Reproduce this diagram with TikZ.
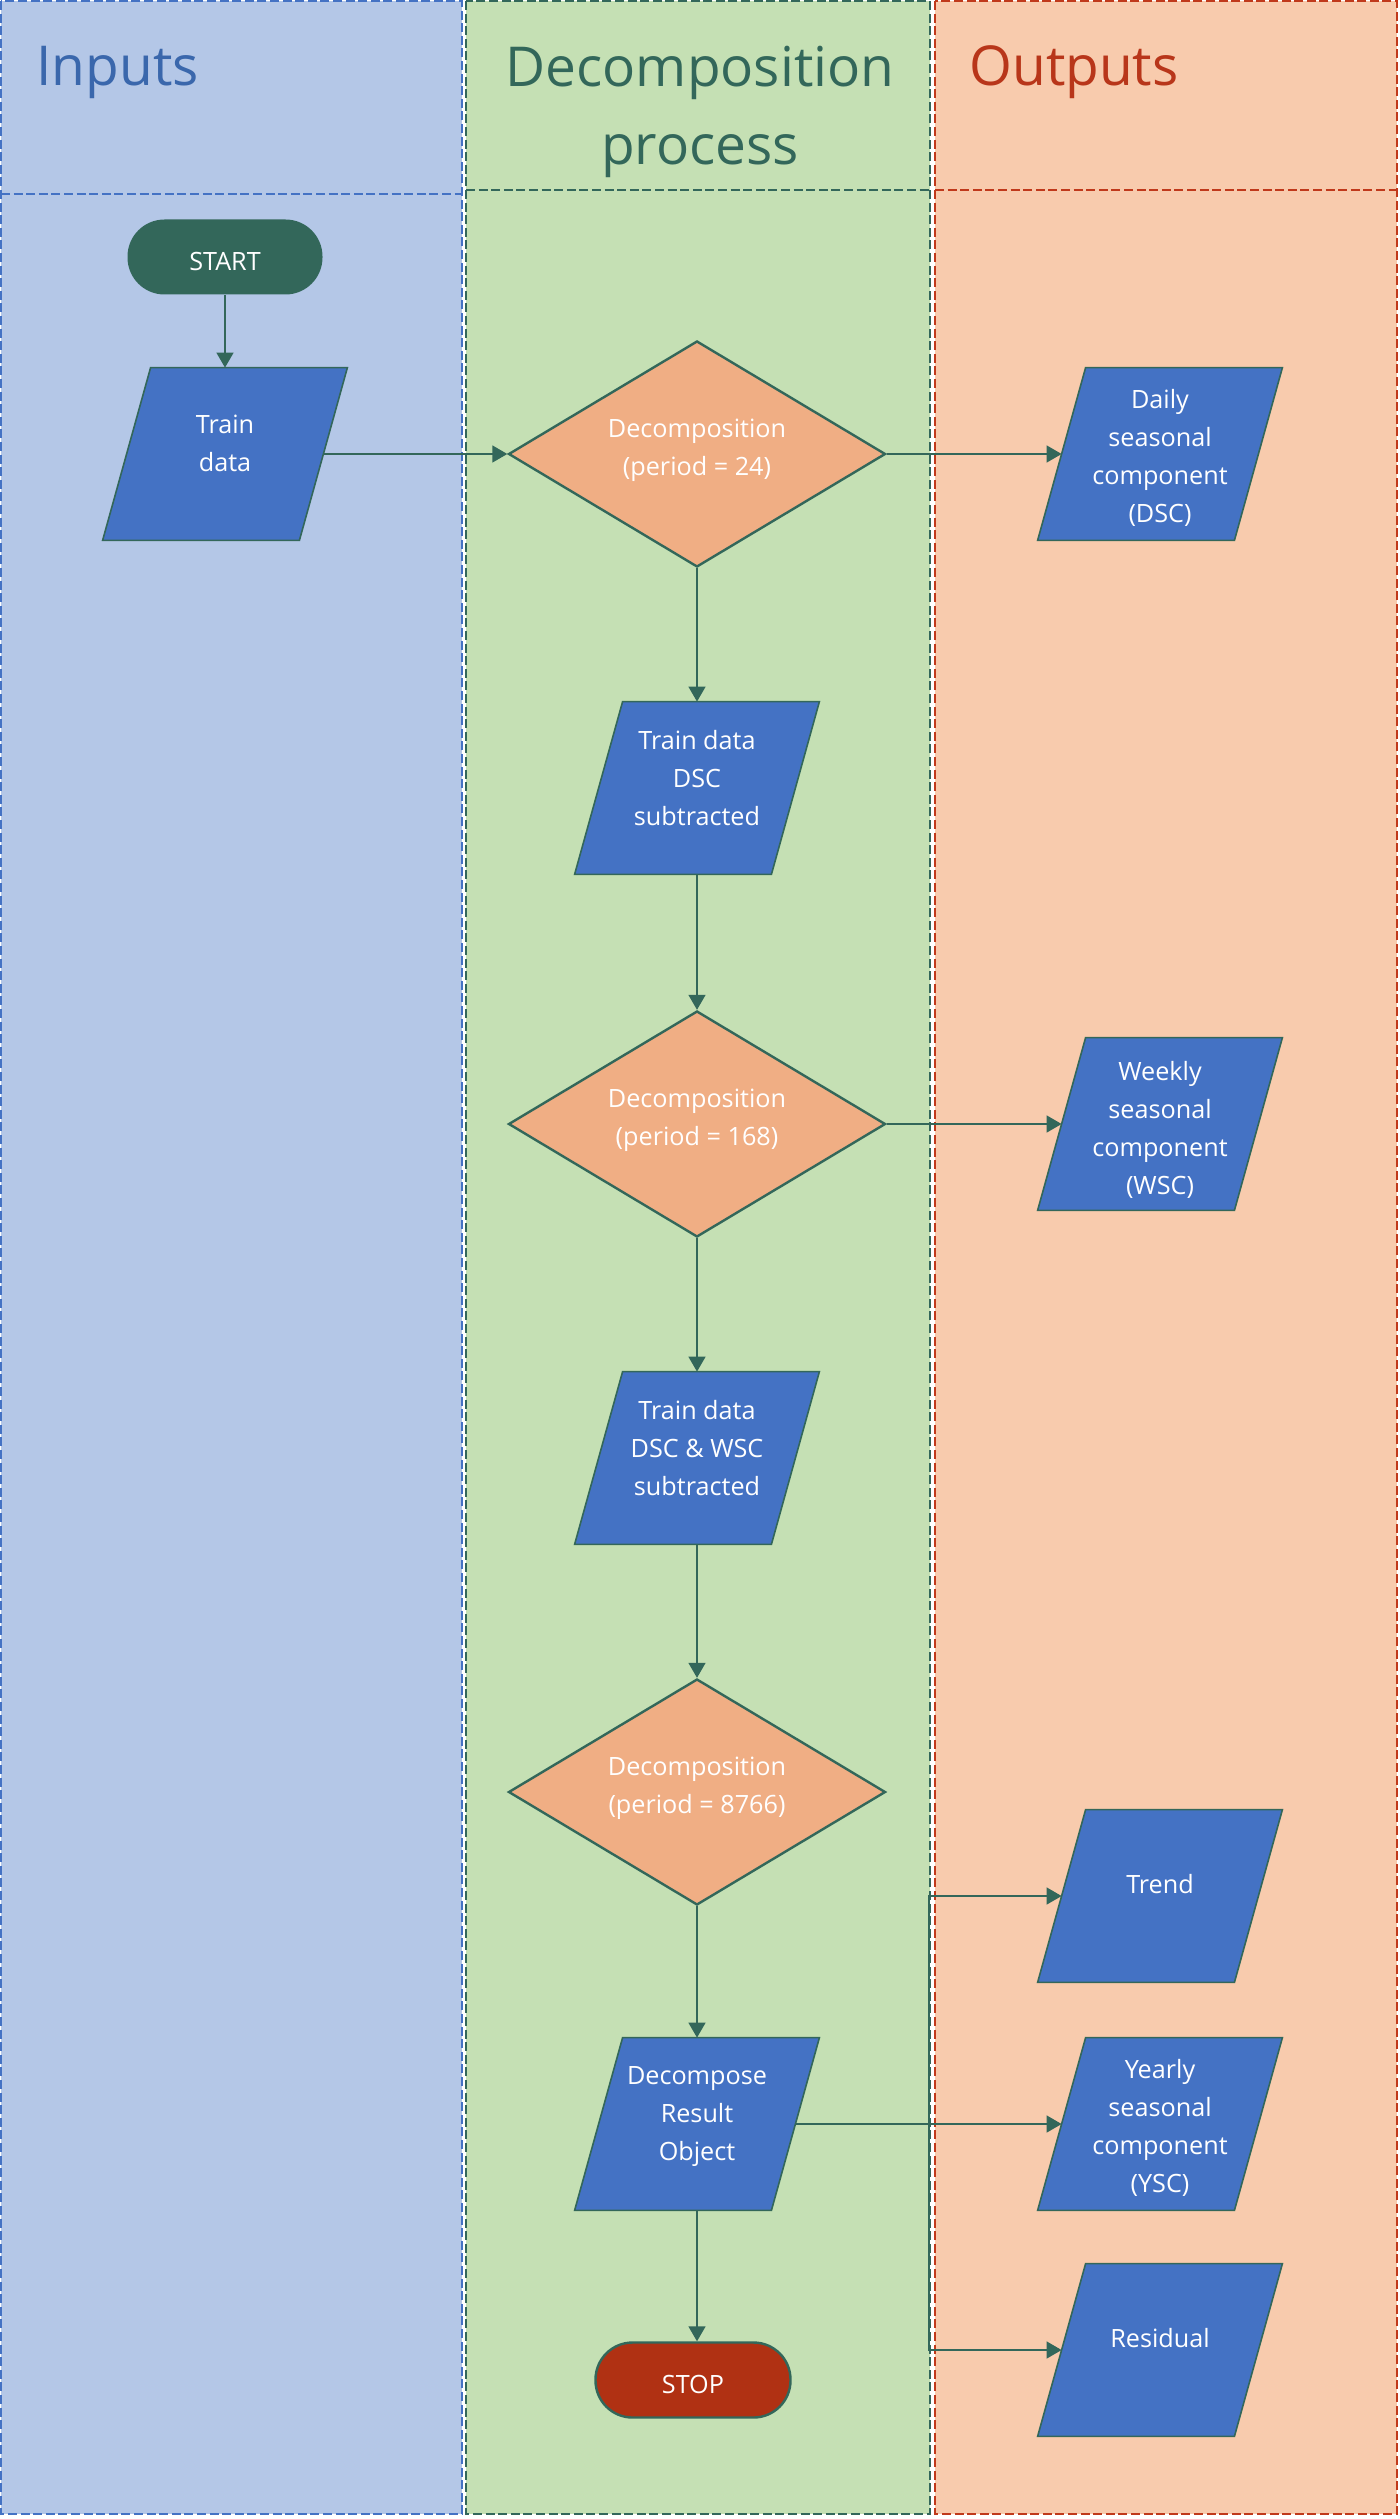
\documentclass[tikz,border=0pt]{standalone}
\usepackage{fontspec}
\setmainfont{Open Sans}
\usetikzlibrary{arrows.meta,shapes.geometric,calc}

\definecolor{laneA}{HTML}{B4C7E7}
\definecolor{laneB}{HTML}{C5E0B4}
\definecolor{laneC}{HTML}{F8CBAD}
\definecolor{rimA}{HTML}{4472C4}
\definecolor{rimB}{HTML}{33675A}
\definecolor{rimC}{HTML}{C0391B}
\definecolor{ttlA}{HTML}{3A67AC}
\definecolor{ttlB}{HTML}{33675A}
\definecolor{ttlC}{HTML}{B8361A}
\definecolor{edgec}{HTML}{33675A}
\definecolor{iofill}{HTML}{4472C4}
\definecolor{decfill}{HTML}{F0AE84}
\definecolor{stopfill}{HTML}{B03113}

\tikzset{
  lanerim/.style={dash pattern=on 4.5pt off 1.8pt, line width=1pt},
  title/.style={font=\fontsize{27.5pt}{39pt}\selectfont, inner sep=0pt},
  lbl/.style={text=white, align=center, inner sep=0pt,
              font=\fontsize{12.6pt}{19pt}\selectfont},
  iobox/.style={minimum width=98pt, minimum height=86pt, inner sep=0pt},
  ioshape/.style={fill=iofill, draw=edgec, line width=0.8pt},
  decision/.style={diamond, shape aspect=1.67, minimum width=188.5pt,
                   minimum height=113pt, inner sep=0pt, fill=decfill,
                   draw=edgec, line width=1.2pt},
  terminal/.style={rectangle, rounded corners=18.5pt, minimum width=97.5pt,
                   minimum height=37.5pt, inner sep=0pt},
  conn/.style={draw=edgec, line width=0.75pt,
               -{Triangle[length=7.5pt,width=8.5pt]}}
}

% data box: invisible anchor node, slanted outline, and its label
\newcommand{\iopar}[4]{%
  \node[iobox] (#1) at #2 {};
  \filldraw[ioshape] ($(#1.south west)+(-24,0)$) -- ($(#1.south east)+(-24,0)$)
     -- ($(#1.north east)+(24,0)$) -- ($(#1.north west)+(24,0)$) -- cycle;
  \node[lbl] (#1-txt) at ($(#1.center)+(0,#4)$) {#3};
}

\begin{document}
\begin{tikzpicture}[x=0.5pt, y=-0.5pt]
\useasboundingbox (0,0) rectangle (1400,2519);

% swim lanes
\fill[laneA] (1,1) rectangle (462,2514);
\draw[lanerim, draw=rimA] (1,1) rectangle (462,2514);
\draw[lanerim, draw=rimA] (1,194) -- (462,194);
\fill[laneB] (466,1) rectangle (930,2514);
\draw[lanerim, draw=rimB] (466,1) rectangle (930,2514);
\draw[lanerim, draw=rimB] (466,190) -- (930,190);
\fill[laneC] (935,1) rectangle (1397,2514);
\draw[lanerim, draw=rimC] (935,1) rectangle (1397,2514);
\draw[lanerim, draw=rimC] (935,190) -- (1397,190);

% lane titles
\node[title, text=ttlA, anchor=base west] (hin) at (36,86) {Inputs};
\node[title, text=ttlB, align=center, anchor=north] (hdp) at (700,31.4)
  {\strut Decomposition\\\strut process};
\node[title, text=ttlC, anchor=base west] (hout) at (969,86) {Outputs};

% terminals
\node[terminal, fill=edgec] (start) at (225,257) {};
\node[lbl] (start-txt) at ($(start.center)+(0,6)$) {\strut START};
\node[terminal, fill=stopfill, draw=edgec, line width=1.2pt] (stop) at (693,2380) {};
\node[lbl] (stop-txt) at ($(stop.center)+(0,6)$) {\strut STOP};

% decisions
\node[decision] (d1) at (697,454) {};
\node[lbl] (d1-txt) at ($(d1.center)+(0,-5)$) {\strut Decomposition\\\strut (period = 24)};
\node[decision] (d2) at (697,1124) {};
\node[lbl] (d2-txt) at ($(d2.center)+(0,-5)$) {\strut Decomposition\\\strut (period = 168)};
\node[decision] (d3) at (697,1792) {};
\node[lbl] (d3-txt) at ($(d3.center)+(0,-5)$) {\strut Decomposition\\\strut (period = 8766)};

% data boxes
\iopar{tdata}{(225,454)}{\strut Train\\\strut data}{-9}
\iopar{daily}{(1160,454)}{\strut Daily\\\strut seasonal\\\strut component\\\strut (DSC)}{4}
\iopar{dsc}{(697,788)}{\strut Train data\\\strut DSC\\\strut subtracted}{-8}
\iopar{weekly}{(1160,1124)}{\strut Weekly\\\strut seasonal\\\strut component\\\strut (WSC)}{6}
\iopar{dscw}{(697,1458)}{\strut Train data\\\strut DSC \& WSC\\\strut subtracted}{-8}
\iopar{trend}{(1160,1896)}{\strut Trend}{-10}
\iopar{dec}{(697,2124)}{\strut Decompose\\\strut Result\\\strut Object}{-9}
\iopar{yearly}{(1160,2124)}{\strut Yearly\\\strut seasonal\\\strut component\\\strut (YSC)}{4}
\iopar{resid}{(1160,2350)}{\strut Residual}{-10}

% connectors
\draw[conn] (start.south) -- (tdata.north);
\draw[conn] (tdata.east) -- (d1.west);
\draw[conn] (d1.east) -- (daily.west);
\draw[conn] (d1.south) -- (dsc.north);
\draw[conn] (dsc.south) -- (d2.north);
\draw[conn] (d2.east) -- (weekly.west);
\draw[conn] (d2.south) -- (dscw.north);
\draw[conn] (dscw.south) -- (d3.north);
\draw[conn] (d3.south) -- (dec.north);
\draw[conn] (dec.south) -- (dec.south |- stop.north);
\coordinate (jn) at (929,2124);
\draw[conn] (dec.east) -- (yearly.west);
\draw[conn] (jn) |- (trend.west);
\draw[conn] (jn) |- (resid.west);
\end{tikzpicture}
\end{document}
